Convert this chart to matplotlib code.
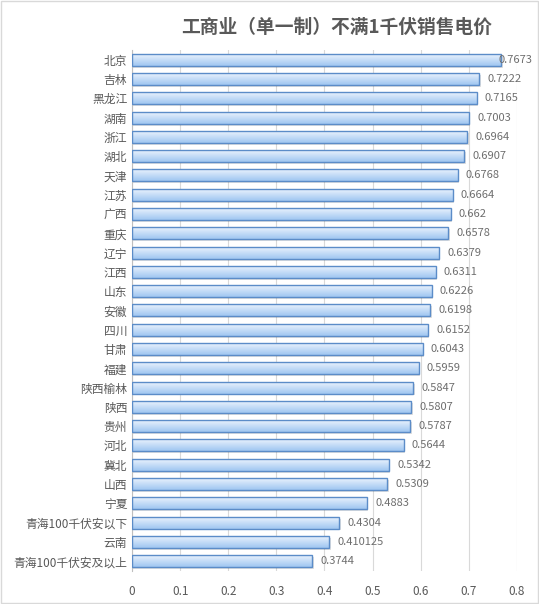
import matplotlib.pyplot as plt
import numpy as np
from matplotlib.colors import LinearSegmentedColormap

plt.rcParams['font.family'] = ['Noto Sans CJK SC', 'DejaVu Sans']

regions = ['北京', '吉林', '黑龙江', '湖南', '浙江', '湖北', '天津', '江苏', '广西', '重庆',
           '辽宁', '江西', '山东', '安徽', '四川', '甘肃', '福建', '陕西榆林', '陕西', '贵州',
           '河北', '冀北', '山西', '宁夏', '青海100千伏安以下', '云南', '青海100千伏安及以上']
prices = [0.7673, 0.7222, 0.7165, 0.7003, 0.6964, 0.6907, 0.6768, 0.6664, 0.662, 0.6578,
          0.6379, 0.6311, 0.6226, 0.6198, 0.6152, 0.6043, 0.5959, 0.5847, 0.5807, 0.5787,
          0.5644, 0.5342, 0.5309, 0.4883, 0.4304, 0.410125, 0.3744]
price_labels = ['0.7673', '0.7222', '0.7165', '0.7003', '0.6964', '0.6907', '0.6768', '0.6664',
                '0.662', '0.6578', '0.6379', '0.6311', '0.6226', '0.6198', '0.6152', '0.6043',
                '0.5959', '0.5847', '0.5807', '0.5787', '0.5644', '0.5342', '0.5309', '0.4883',
                '0.4304', '0.410125', '0.3744']

text_col = '#595959'
val_col = '#6e6e6e'

fig = plt.figure(figsize=(5.39, 6.04), dpi=100)
ax = fig.add_axes([0.245, 0.055, 0.714, 0.862])

y = np.arange(len(regions))
bar_h = 0.62

# soft shadow under each bar
ax.barh(y + 0.1, prices, left=0.003, height=bar_h, color='#000000', alpha=0.12,
        linewidth=0, zorder=1.5)

# gradient fill for each bar (light top -> deeper blue bottom)
grad = np.linspace(0, 1, 50).reshape(-1, 1)
cmap = LinearSegmentedColormap.from_list('barfill', ['#eaf3fd', '#c4dcf7', '#9fc6f1'])
for yi, v in zip(y, prices):
    ax.imshow(grad, extent=(0, v, yi + bar_h / 2, yi - bar_h / 2), aspect='auto',
              cmap=cmap, zorder=2, interpolation='bicubic')
ax.barh(y, prices, height=bar_h, facecolor='none', edgecolor='#5b8cc8',
        linewidth=1.0, zorder=3)

for yi, v, lab in zip(y, prices, price_labels):
    ax.text(min(v + 0.017, 0.762), yi, lab, va='center', ha='left', fontsize=8,
            color=val_col, zorder=4)

ax.set_xlim(0, 0.8)
ax.set_ylim(len(regions) - 0.5, -0.5)
ax.set_xticks(np.arange(0, 0.81, 0.1))
ax.set_xticklabels(['0', '0.1', '0.2', '0.3', '0.4', '0.5', '0.6', '0.7', '0.8'])
ax.set_yticks(y)
ax.set_yticklabels(regions)
ax.tick_params(axis='both', length=0, colors=text_col, labelsize=8.5)
ax.tick_params(axis='x', pad=10)
ax.grid(axis='x', color='#d9d9d9', linewidth=0.8, zorder=0)
ax.set_axisbelow(True)
for s in ['top', 'right', 'bottom']:
    ax.spines[s].set_visible(False)
ax.spines['left'].set_color('#bfbfbf')

fig.text(0.625, 0.955, '工商业（单一制）不满1千伏销售电价', ha='center', va='center',
         fontsize=13.5, fontweight='bold', color=text_col)

# outer chart border
fig.patches.append(plt.Rectangle((0.002, 0.002), 0.996, 0.996, transform=fig.transFigure,
                                 fill=False, edgecolor='#d9d9d9', linewidth=1))

fig.savefig('out.png', dpi=100)
